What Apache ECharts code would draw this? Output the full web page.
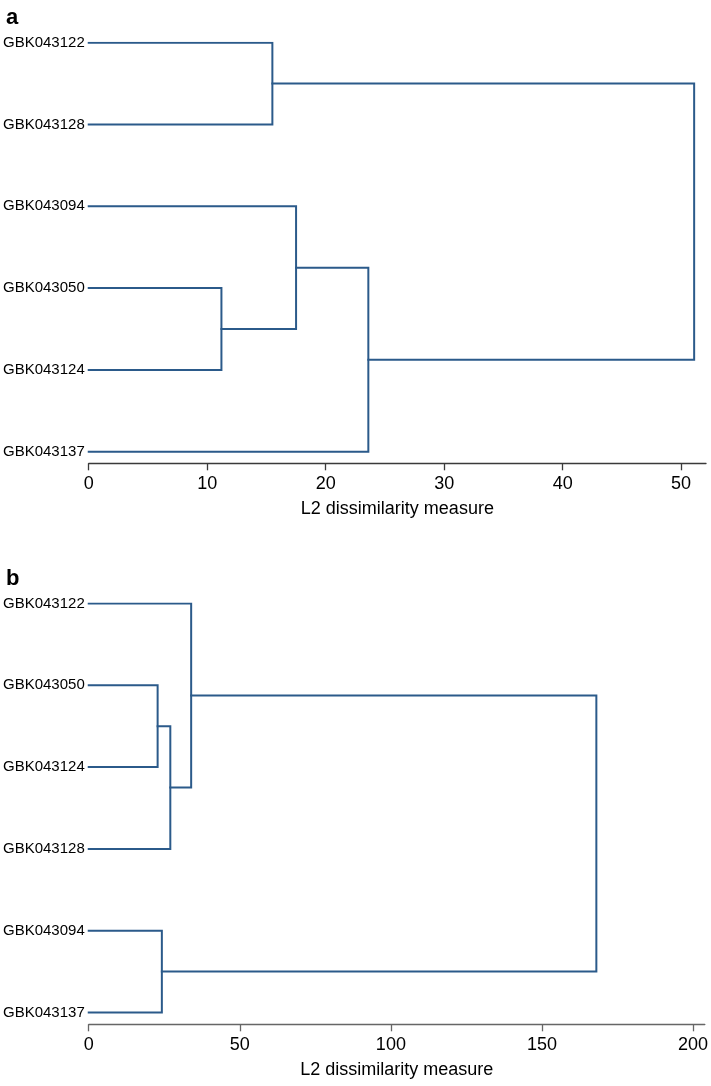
<!DOCTYPE html>
<html>
<head>
<meta charset="utf-8">
<script src="https://cdn.jsdelivr.net/npm/echarts@6/dist/echarts.min.js"></script>
<style>
html,body{margin:0;padding:0;background:#fff;}
#c{width:711px;height:1086px;}
</style>
</head>
<body>
<div id="c"></div>
<script>
// Panel a
const leavesA = ['GBK043122','GBK043128','GBK043094','GBK043050','GBK043124','GBK043137'];
// [childA, childB, height]; indices >= leaves.length refer to earlier merges
const mergesA = [[0,1,15.5],[3,4,11.2],[2,7,17.5],[8,5,23.6],[6,9,51.1]];
const ticksA = [0,10,20,30,40,50];
// Panel b
const leavesB = ['GBK043122','GBK043050','GBK043124','GBK043128','GBK043094','GBK043137'];
const mergesB = [[1,2,22.8],[6,3,27.0],[0,7,33.9],[4,5,24.2],[8,9,168.0]];
const ticksB = [0,50,100,150,200];
const axisName = 'L2 dissimilarity measure';

function buildLinks(leaves, merges){
  const pos = leaves.map((_, i) => [0, i]);
  const out = [];
  merges.forEach(([a, b, h]) => {
    const pa = pos[a], pb = pos[b];
    out.push({coords: [[pa[0], pa[1]], [h, pa[1]], [h, pb[1]], [pb[0], pb[1]]]});
    pos.push([h, (pa[1] + pb[1]) / 2]);
  });
  return out;
}

const FONT = "'Liberation Sans', Arial, Helvetica, sans-serif";
const LINE = '#2b5a8a';

function xAxis(idx, max, ticks, lineColor){
  return {
    type: 'value', gridIndex: idx, min: 0, max: max,
    name: axisName, nameLocation: 'middle', nameGap: 37,
    nameTextStyle: {fontFamily: FONT, fontSize: 18, color: '#000'},
    axisLine: {show: true, onZero: false, lineStyle: {color: lineColor, width: 1.3}},
    axisTick: {show: true, length: 7, inside: false, customValues: ticks, lineStyle: {color: lineColor, width: 1.3}},
    axisLabel: {customValues: ticks, margin: 12, fontFamily: FONT, fontSize: 18, color: '#000'},
    splitLine: {show: false}
  };
}
function yAxis(idx, max, leaves){
  return {
    type: 'value', gridIndex: idx, min: 0, max: max, inverse: true,
    axisLine: {show: false}, axisTick: {show: false}, splitLine: {show: false},
    axisLabel: {
      customValues: leaves.map((_, i) => i), margin: 4,
      fontFamily: FONT, fontSize: 15, color: '#000',
      formatter: v => leaves[v] || ''
    }
  };
}
function linkSeries(idx, data){
  return {
    type: 'lines', coordinateSystem: 'cartesian2d', xAxisIndex: idx, yAxisIndex: idx,
    polyline: true, silent: true,
    lineStyle: {color: LINE, width: 2, opacity: 1, join: 'miter', cap: 'square'},
    data: data
  };
}

const chart = echarts.init(document.getElementById('c'), null, {renderer: 'canvas'});
chart.setOption({
  animation: false,
  backgroundColor: '#fff',
  title: [
    {text: 'a', left: 1, top: 2, textStyle: {fontFamily: FONT, fontSize: 22, fontWeight: 'bold', color: '#000'}},
    {text: 'b', left: 1, top: 563, textStyle: {fontFamily: FONT, fontSize: 22, fontWeight: 'bold', color: '#000'}}
  ],
  grid: [
    {left: 85.7, top: 42.7, width: 620.3, height: 420.6},
    {left: 85.7, top: 603.5, width: 620.3, height: 420.8}
  ],
  xAxis: [xAxis(0, 52.1, ticksA, '#3a3a3a'), xAxis(1, 203.9, ticksB, '#666')],
  yAxis: [yAxis(0, 5.142, leavesA), yAxis(1, 5.144, leavesB)],
  series: [linkSeries(0, buildLinks(leavesA, mergesA)), linkSeries(1, buildLinks(leavesB, mergesB))]
});
</script>
</body>
</html>
